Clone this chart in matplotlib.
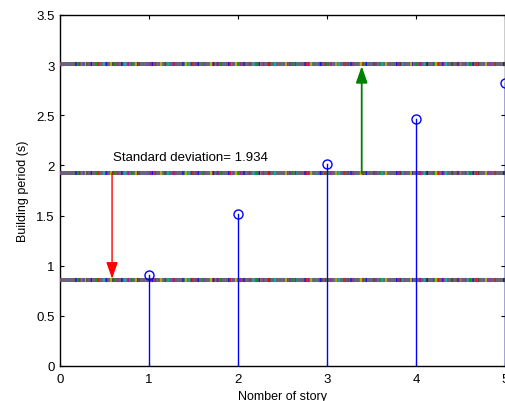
import matplotlib
matplotlib.use("Agg")
import matplotlib.pyplot as plt
import numpy as np

plt.rcParams['font.family'] = ['Liberation Sans', 'DejaVu Sans']
plt.rcParams['lines.scale_dashes'] = False

stories = [1, 2, 3, 4, 5]
periods = [0.907, 1.515, 2.01, 2.46, 2.82]
mean_level = 1.924
lower_level = 0.86
upper_level = 3.01
std_text = "Standard deviation= 1.934"
xticks = [0, 1, 2, 3, 4, 5]
yticks = [0, 0.5, 1, 1.5, 2, 2.5, 3, 3.5]
ytick_labels = ["0", "0.5", "1", "1.5", "2", "2.5", "3", "3.5"]

fig = plt.figure(figsize=(5.06, 4.02), dpi=100)
ax = fig.add_axes([60/506, 35/402, 445/506, 351/402])

stripe_colors = ['#0000ff', '#00a000', '#ff0000', '#00c0c0', '#c000c0',
                 '#c0c000', '#404040', '#8040a0']
for lvl in [lower_level, mean_level, upper_level]:
    ax.plot([0, 5], [lvl, lvl], color='#6a6478', lw=2.9, solid_capstyle='butt', zorder=2)
    for i, c in enumerate(stripe_colors):
        ln, = ax.plot([0, 5], [lvl, lvl], color=c, lw=2.9,
                      dash_capstyle='butt', zorder=3, alpha=0.8)
        ln.set_dashes((1.0 + (i % 2) * 0.5, 10.0 + i * 1.3))

# stems
for x, y in zip(stories, periods):
    ax.plot([x, x], [0, y], color='#0000ff', lw=1.0, zorder=4)
ax.plot(stories, periods, 'o', mfc='none', mec='#0000ff', ms=6.5, mew=1.0,
        zorder=5, clip_on=False)

# arrows
ax.annotate('', xy=(0.585, lower_level + 0.01), xytext=(0.585, mean_level),
            arrowprops=dict(arrowstyle='-|>,head_length=1.0,head_width=0.35',
                            color='#ff0000', lw=1.0, shrinkA=0, shrinkB=0),
            zorder=6)
ax.annotate('', xy=(3.39, upper_level - 0.02), xytext=(3.39, mean_level),
            arrowprops=dict(arrowstyle='-|>,head_length=1.0,head_width=0.35',
                            color='#008000', lw=1.3, shrinkA=0, shrinkB=0),
            zorder=6)

ax.text(0.6, 2.08, std_text, fontsize=9.5, va='center', ha='left')

ax.set_xlim(0, 5)
ax.set_ylim(0, 3.5)
ax.set_xticks(xticks)
ax.set_xticklabels([str(t) for t in xticks])
ax.set_yticks(yticks)
ax.set_yticklabels(ytick_labels)
ax.tick_params(direction='in', length=3, width=0.8, top=True, right=True,
               labelsize=9.5, pad=4)
ax.tick_params(axis='x', pad=5)
for s in ax.spines.values():
    s.set_linewidth(1.0)
ax.set_xlabel('Nomber of story', fontsize=9, labelpad=4)
ax.set_ylabel('Building period (s)', fontsize=9, labelpad=5)

fig.savefig('out.png', dpi=100)
